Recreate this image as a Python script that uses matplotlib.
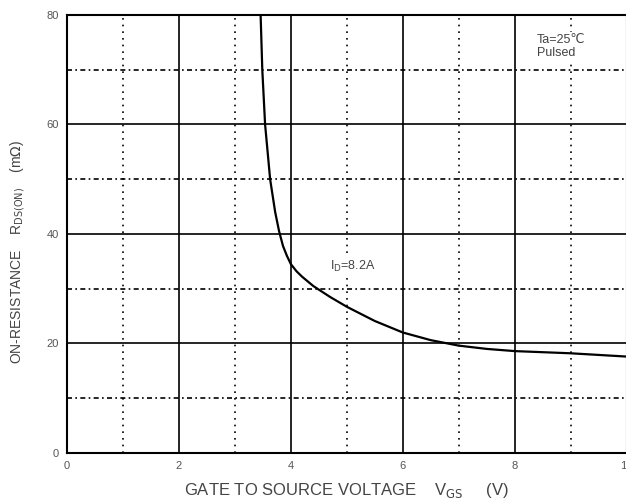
import numpy as np
import matplotlib.pyplot as plt

plt.rcParams['font.family'] = ['Liberation Sans', 'DejaVu Sans']

# curve: I_D = 8.2A
vgs = [3.46, 3.49, 3.54, 3.63, 3.72, 3.79, 3.86, 3.93, 4.0, 4.1, 4.2, 4.4, 4.7, 5.0, 5.5, 6.0, 6.5, 7.0, 7.5, 8.0, 9.0, 10.0]
rds = [80, 70, 60, 50, 44, 40.5, 37.8, 36.0, 34.5, 33.2, 32.2, 30.5, 28.5, 26.7, 24.1, 22.0, 20.6, 19.6, 19.0, 18.6, 18.2, 17.6]

xticks = [0, 2, 4, 6, 8, 10]
yticks = [0, 20, 40, 60, 80]

fig = plt.figure(figsize=(6.26, 5.01), dpi=100)
ax = fig.add_axes([0.107, 0.096, 0.894, 0.874])

ax.plot(vgs, rds, color='black', lw=1.6, zorder=3)

# grid: solid on major, dotted on minor
for x in [2, 4, 6, 8]:
    ax.axvline(x, color='black', lw=1.2, zorder=1)
for x in [1, 3, 5, 7, 9]:
    ax.axvline(x, color='black', lw=1.2, ls=(0, (1, 3)), zorder=1)
for y in [20, 40, 60]:
    ax.axhline(y, color='black', lw=1.2, zorder=1)
for y in [10, 30, 50, 70]:
    ax.axhline(y, color='black', lw=1.2, ls=(0, (3, 2, 1, 2)), zorder=1)

ax.set_xlim(0, 10)
ax.set_ylim(0, 80)
ax.set_xticks(xticks)
ax.set_yticks(yticks)
ax.tick_params(length=0, labelsize=8, labelcolor='#555555', pad=6)
for s in ax.spines.values():
    s.set_linewidth(1.5)

ax.set_xlabel(r'GATE TO SOURCE VOLTAGE    V$_{\rm GS}$     (V)', fontsize=12, color='#444444', labelpad=7)
ax.set_ylabel(r'ON-RESISTANCE    R$_{\rm DS(ON)}$    (m$\Omega$)', fontsize=10, color='#444444')
ax.yaxis.set_label_coords(-0.072, 0.46)

box = dict(facecolor='white', edgecolor='none', pad=1.5)
ax.text(8.4, 76.5, 'Ta=25\u2103\nPulsed', fontsize=9, color='#444444', va='top', linespacing=1.1,
        bbox=box, zorder=4)
ax.text(4.7, 33.5, r'I$_{\rm D}$=8.2A', fontsize=9, color='#444444', bbox=box, zorder=4)

fig.savefig('out.png', dpi=100)
